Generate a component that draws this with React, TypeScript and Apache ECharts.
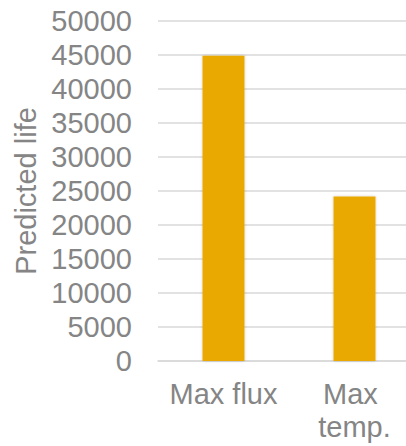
import React, { useEffect, useRef } from "react";
import * as echarts from "echarts";

// Scenario names on the x axis and the predicted life for each one
const categories: string[] = ["Max flux", "Max temp."];
const predictedLife: number[] = [44900, 24200];

// Value axis range
const yMin = 0;
const yMax = 50000;
const yStep = 5000;

const axisTitle = "Predicted life";

export default function App() {
  const ref = useRef<HTMLDivElement>(null);

  useEffect(() => {
    document.body.style.margin = "0";
    if (!ref.current) return;
    const chart = echarts.init(ref.current, null, { renderer: "svg" });
    const font = "Liberation Sans, Arial, sans-serif";
    const grey = "#858585";
    chart.setOption({
      animation: false,
      backgroundColor: "#ffffff",
      grid: {
        left: 158,
        top: 21,
        bottom: 85,
        right: -14,
        outerBoundsMode: "none",
        containLabel: false,
      },
      xAxis: {
        type: "category",
        data: categories,
        axisTick: { show: false },
        axisLine: { show: true, lineStyle: { color: "#d9d9d9", width: 1.5 } },
        axisLabel: {
          interval: 0,
          color: grey,
          fontFamily: font,
          fontSize: 29,
          lineHeight: 33,
          margin: 16,
          width: 115,
          overflow: "break",
        },
      },
      yAxis: {
        type: "value",
        min: yMin,
        max: yMax,
        interval: yStep,
        name: axisTitle,
        nameLocation: "middle",
        nameGap: 118,
        nameTextStyle: { color: grey, fontFamily: font, fontSize: 29 },
        axisLine: { show: false },
        axisTick: { show: false },
        splitLine: { lineStyle: { color: "#d9d9d9", width: 1.5 } },
        axisLabel: {
          color: grey,
          fontFamily: font,
          fontSize: 29,
          margin: 26,
          formatter: (v: number) => String(v),
        },
      },
      series: [
        {
          type: "bar",
          data: predictedLife,
          barWidth: 42,
          itemStyle: {
            color: "#EAA900",
            shadowBlur: 3,
            shadowColor: "rgba(0,0,0,0.18)",
          },
        },
      ],
    });
    return () => chart.dispose();
  }, []);

  return <div ref={ref} style={{ width: 406, height: 446 }} />;
}
